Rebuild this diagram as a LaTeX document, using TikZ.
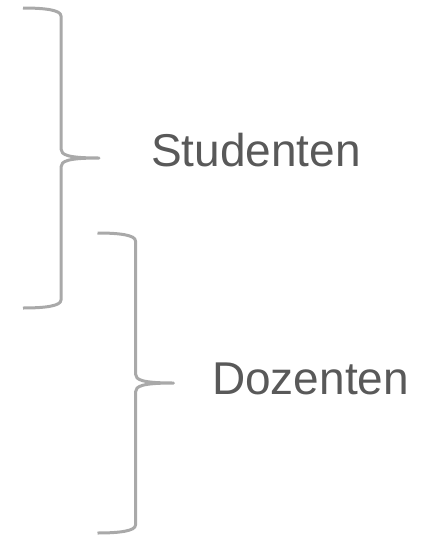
\documentclass[tikz,border=0pt]{standalone}
\usepackage{fontspec}
\setmainfont{Liberation Sans}
\definecolor{bracegray}{HTML}{A9A9A9}
\definecolor{textgray}{HTML}{595959}
\tikzset{
  bracepath/.style={draw=bracegray, line width=3pt, line cap=butt, line join=round},
  label/.style={text=textgray, font=\fontsize{46}{54}\selectfont, inner sep=0pt, anchor=base west}
}
\begin{document}
\begin{tikzpicture}[x=1pt,y=-1pt]
\useasboundingbox (0,0) rectangle (422,536);
\foreach \dx/\dy in {0/0, 74.5/225} {
  \begin{scope}[shift={(\dx,\dy)}]
    \draw[bracepath] (23,8) .. controls (45,8) and (61,10) .. (61,16)
      -- (61,149) .. controls (61,155) and (68,158) .. (99,158)
      .. controls (68,158) and (61,161) .. (61,167)
      -- (61,300) .. controls (61,306) and (45,308) .. (23,308);
  \end{scope}
}
\node[label] (stud) at (151,166) {Studenten};
\node[label] (doz) at (212,394) {Dozenten};
\end{tikzpicture}
\end{document}
